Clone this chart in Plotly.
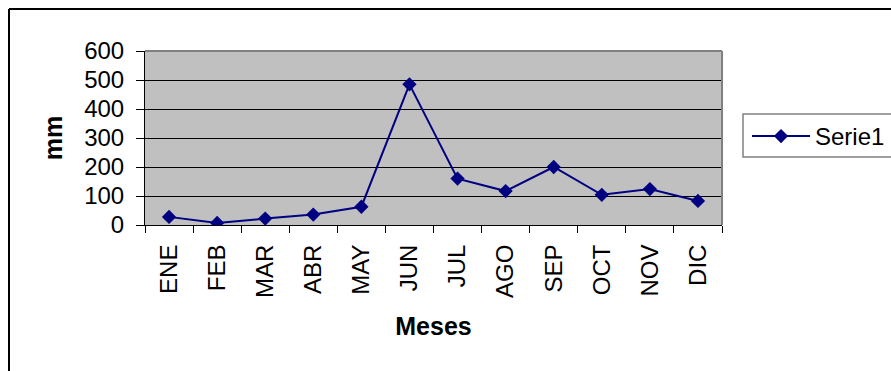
import plotly.graph_objects as go

# Monthly precipitation (mm)
meses = ["ENE", "FEB", "MAR", "ABR", "MAY", "JUN", "JUL", "AGO", "SEP", "OCT", "NOV", "DIC"]
serie1 = [28, 7, 22, 36, 63, 485, 160, 117, 200, 104, 124, 83]
y_ticks = [0, 100, 200, 300, 400, 500, 600]

W, H = 891, 371
L, R, T, B = 145, 722, 51, 225  # plot area in pixels


def px_x(p):
    return (p - L) / (R - L)


def px_y(p):
    return (B - p) / (B - T)


FONT = "Liberation Sans, Arial, sans-serif"

fig = go.Figure()
fig.add_trace(go.Scatter(
    x=meses, y=serie1, name="Serie1", mode="lines+markers",
    line=dict(color="#000080", width=2),
    marker=dict(symbol="diamond", size=11, color="#000080"),
))

fig.update_layout(
    width=W, height=H,
    margin=dict(l=L, r=W - R, t=T, b=H - B, pad=0, autoexpand=False),
    paper_bgcolor="white",
    plot_bgcolor="#C0C0C0",
    font=dict(family=FONT, size=24, color="black"),
    showlegend=True,
    legend=dict(
        x=px_x(747), y=px_y(114), xanchor="left", yanchor="top",
        borderwidth=0, bgcolor="rgba(0,0,0,0)",
        font=dict(family=FONT, size=24, color="black"),
        itemwidth=58, tracegroupgap=0,
    ),
    xaxis=dict(
        type="category", tickvals=meses, ticktext=meses,
        tickangle=-90, tickson="boundaries",
        ticks="outside", ticklen=7, tickcolor="black", tickwidth=1,
        ticklabelstandoff=9,
        showline=True, linecolor="black", linewidth=1,
        showgrid=False, zeroline=False,
        range=[-0.5, 11.5], automargin=False,
        title=dict(text="<b>Meses</b>", font=dict(size=25), standoff=20),
    ),
    yaxis=dict(
        range=[0, 600], tickvals=y_ticks,
        ticks="outside", ticklen=8, tickcolor="black", tickwidth=1,
        ticklabelstandoff=7,
        showline=True, linecolor="black", linewidth=1,
        showgrid=True, gridcolor="black", gridwidth=1,
        zeroline=False, automargin=False,
        title=dict(text="<b>mm</b>", font=dict(size=25), standoff=14),
    ),
    shapes=[
        # plot area frame (top and right)
        dict(type="line", xref="paper", yref="paper", x0=0, x1=1, y0=1, y1=1,
             line=dict(color="#808080", width=2)),
        dict(type="line", xref="paper", yref="paper", x0=1, x1=1, y0=0, y1=1,
             line=dict(color="#808080", width=2)),
        # legend box
        dict(type="rect", xref="paper", yref="paper",
             x0=px_x(743), x1=px_x(905), y0=px_y(157), y1=px_y(114),
             line=dict(color="#808080", width=1.5)),
        # chart frame
        dict(type="line", xref="paper", yref="paper",
             x0=px_x(9), x1=px_x(9), y0=px_y(9), y1=px_y(400),
             line=dict(color="black", width=2)),
        dict(type="line", xref="paper", yref="paper",
             x0=px_x(9), x1=px_x(920), y0=px_y(9), y1=px_y(9),
             line=dict(color="black", width=2)),
    ],
)

fig.write_html("out.html")
